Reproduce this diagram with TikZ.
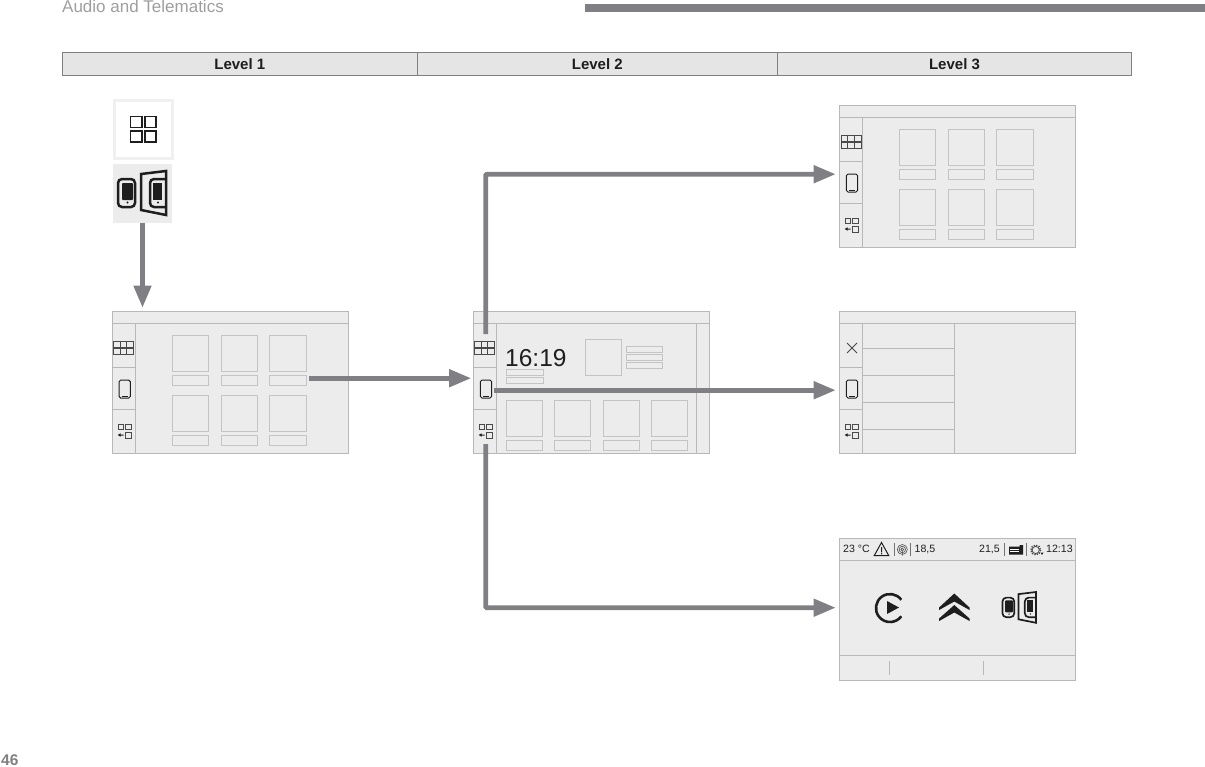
\documentclass[tikz,border=0pt]{standalone}
\usepackage{fontspec}
\setmainfont{Liberation Sans}
\usetikzlibrary{arrows.meta}
\definecolor{scrfill}{HTML}{ECECEC}
\definecolor{scrline}{HTML}{B8B8B8}
\definecolor{tileline}{HTML}{C4C4C4}
\definecolor{arrowgray}{HTML}{808084}
\definecolor{icondark}{HTML}{4A4A4A}
\definecolor{ink}{HTML}{1E1E1E}
\tikzset{
  screen/.style={draw=scrline,fill=scrfill,line width=1pt,minimum width=236.2pt,minimum height=142pt,anchor=north west,inner sep=0pt,outer sep=0pt},
  scrrule/.style={draw=scrline,line width=.95pt},
  tile/.style={draw=tileline,line width=1pt},
  flow/.style={draw=arrowgray,line width=4.6pt,-{Triangle[length=22pt,width=17pt]},shorten >=3.5pt},
  levelcell/.style={draw=gray,fill=black!10,line width=.9pt,minimum height=23pt,anchor=north west,inner sep=0pt,outer sep=0pt,font=\bfseries\fontsize{15}{16}\selectfont,text=ink},
  topbarlabel/.style={anchor=base west,inner sep=0pt,text=black!38,font=\fontsize{17}{19}\selectfont},
  statustext/.style={anchor=base west,inner sep=0pt,text=ink,font=\fontsize{10.6}{12}\selectfont},
  sidebar/.pic={
    \draw[scrrule] (23,12) -- (23,142) (0,12) -- (236,12) (0,56) -- (23,56) (0,98) -- (23,98);
  },
  gridico/.pic={
    \draw[icondark,line width=.8pt] (-10,-6.5) rectangle (10,-.6) (-10,.6) rectangle (10,6.5)
      (-3.3,-6.5) -- (-3.3,-.6) (3.3,-6.5) -- (3.3,-.6) (-3.3,.6) -- (-3.3,6.5) (3.3,.6) -- (3.3,6.5);
  },
  phoneico/.pic={
    \draw[ink,line width=1pt,rounded corners=1.6pt] (-5.6,-9) rectangle (5.6,9);
    \draw[ink,line width=1.2pt] (-3,7.4) -- (3,7.4);
  },
  backico/.pic={
    \draw[icondark,line width=.7pt] (-6.5,-7) rectangle (-1,-1.5) (.7,-7) rectangle (6.5,-1.5) (.7,1) rectangle (6.5,7);
    \fill[ink] (-6.8,4) -- (-4,2.3) -- (-4,3.5) -- (-1,3.5) -- (-1,4.5) -- (-4,4.5) -- (-4,5.7) -- cycle;
  },
  tilegrid/.pic={
    \foreach \tx in {60,109,157.5}{
      \foreach \ty in {24.5,84}{
        \draw[tile] (\tx,\ty) rectangle ++(36.5,36);
        \draw[tile] (\tx,\ty+40) rectangle ++(36.5,10);
      }
    }
  },
  mobico/.pic={
    \draw[ink,line width=#1pt,rounded corners=4pt] (1,8) rectangle (18,36);
    \fill[ink,rounded corners=.8pt] (5,12) rectangle (16,29);
    \fill[ink] (10.5,31.5) circle (1.1);
    \draw[ink,line width=#1pt,line join=miter] (24,3) -- (49,0) -- (49,44) -- (24,39) -- cycle;
    \draw[ink,line width=#1pt,rounded corners=4pt] (49,8) -- (33,8) -- (33,36) -- (49,36);
    \fill[ink] (36,12) rectangle (45,29);
    \fill[ink] (41,31.5) circle (1.1);
  }
}
\begin{document}
\begin{tikzpicture}[x=1pt,y=-1pt,line cap=butt]
\useasboundingbox (0,0) rectangle (1205,766);

% page furniture
\node[topbarlabel] (pagetitle) at (62,12) {Audio and Telematics};
\fill[arrowgray] (585,4) rectangle (1205,12);
\node[anchor=base west,inner sep=0pt,text=gray,font=\bfseries\fontsize{15.5}{17}\selectfont] (pagenum) at (1,765) {46};

% level table
\node[levelcell,minimum width=355pt] (lvlone) at (62.3,52.3) {Level 1};
\node[levelcell,minimum width=360pt] (lvltwo) at (417.3,52.3) {Level 2};
\node[levelcell,minimum width=354.4pt] (lvlthree) at (777.3,52.3) {Level 3};

% start icons
\node[draw=black!6,fill=white,line width=2.5pt,minimum size=58pt,inner sep=0pt,outer sep=0pt,anchor=north west] (menubox) at (114.3,100.3) {};
\draw[ink,line width=1.8pt] (130.5,116.5) rectangle (142,127.5) (145,116.5) rectangle (156,127.5)
   (130.5,131) rectangle (142,142) (145,131) rectangle (156,142);
\node[fill=scrfill,minimum size=59pt,inner sep=0pt,outer sep=0pt,anchor=north west] (mobbox) at (113,164) {};
\pic at (117,171) {mobico=2.5};

% screens
\node[screen] (scrA) at (112.2,311.2) {};
\node[screen] (scrB) at (473.2,311.2) {};
\node[screen] (scrC) at (839.2,105.2) {};
\node[screen] (scrD) at (839.2,311.2) {};
\node[screen] (scrE) at (839.2,538.2) {};

% screen A
\pic at (scrA.north west) {sidebar};
\pic at (123.5,347.5) {gridico};
\pic at (124.7,389) {phoneico};
\pic at (124.5,431) {backico};
\pic at (scrA.north west) {tilegrid};

% screen C
\pic at (scrC.north west) {sidebar};
\pic at (851,141.5) {gridico};
\pic at (852,183) {phoneico};
\pic at (851.5,225) {backico};
\pic at (scrC.north west) {tilegrid};

% screen B
\pic at (scrB.north west) {sidebar};
\pic at (484.5,347.5) {gridico};
\pic at (486,389) {phoneico};
\pic at (485.5,431) {backico};
\draw[scrrule] (696,323) -- (696,453);
\node[anchor=base west,inner sep=0pt,text=ink,font=\fontsize{24.5}{26}\selectfont] (clock) at (505,366) {16:19};
\draw[tile] (585.5,339) rectangle (621.5,375);
\draw[tile] (626,346) rectangle (662,352) (626,354) rectangle (662,360) (626,362) rectangle (662,368);
\draw[tile] (506,369.5) rectangle (543,375.5) (506,377.5) rectangle (543,383.5);
\foreach \tx in {506,554.5,603,651.5}{
  \draw[tile] (\tx,400.5) rectangle ++(36,36);
  \draw[tile] (\tx,440) rectangle ++(36,10.5);
}

% screen D
\pic at (scrD.north west) {sidebar};
\draw[icondark,line width=.9pt] (847,343) -- (857,353) (857,343) -- (847,353);
\pic at (852,389) {phoneico};
\pic at (851.5,431) {backico};
\draw[scrrule] (954.5,323) -- (954.5,453);
\foreach \ry in {348,375,402,429}{\draw[scrrule] (862,\ry) -- (954.5,\ry);}

% screen E
\draw[scrrule] (839,560) -- (1075,560) (839,655.5) -- (1075,655.5);
\draw[scrrule] (889.5,661) -- (889.5,674.5) (983,661) -- (983,674.5);
\node[statustext] (temp) at (843,552) {23 °C};
\node[statustext] (valone) at (914.5,552) {18,5};
\node[statustext] (valtwo) at (979,552) {21,5};
\node[statustext] (timetxt) at (1046,552) {12:13};
\draw[ink,line width=1pt,line join=miter] (881.5,542.5) -- (888.7,555.5) -- (874.3,555.5) -- cycle;
\fill[ink] (881,547) rectangle (882,552.3) (881,553) rectangle (882,554.3);
\draw[black!55,line width=.8pt] (894,543) -- (894,556) (910.7,543) -- (910.7,556) (1004.3,543) -- (1004.3,556) (1026.7,543) -- (1026.7,556);
\draw[ink!80,line width=.6pt] (902.3,549.5) circle (5) (902.3,549.5) circle (3.2) (902.3,549.5) circle (1.4) (902.3,551) -- (902.3,555.5);
\fill[ink] (1009,546.5) -- (1019.5,546.5) -- (1019.5,545) -- (1023,545) -- (1023,554.5) -- (1009,554.5) -- cycle;
\draw[white,line width=.5pt] (1010,549) -- (1018.5,549) (1010,551.5) -- (1018.5,551.5);
\draw[icondark,line width=1.6pt,dash pattern=on 1.2pt off 1.3pt] (1035.7,550) circle (4.8);
\draw[icondark,line width=.8pt] (1035.7,550) circle (3.6);
\fill[ink] (1040.5,552.5) -- (1043.5,552.5) -- (1042,555) -- cycle;
\draw[ink,line width=2.6pt] (901.3,599.8) arc[start angle=-36,end angle=-324,radius=14];
\fill[ink] (887,601) -- (899,607.5) -- (887,614) -- cycle;
\fill[ink] (954.3,593.5) -- (969.5,607.5) -- (969.5,610) -- (954.3,601.5) -- (939.1,610) -- (939.1,607.5) -- cycle;
\fill[ink] (954.3,605) -- (969.5,618.5) -- (969.5,621) -- (954.3,612.5) -- (939.1,621) -- (939.1,618.5) -- cycle;
\pic[scale=.7] at (1001.7,592) {mobico=1.7};

% connectors
\draw[flow] (mobbox.south) -- (mobbox.south |- scrA.north);
\draw[flow,shorten >=2pt] ([xshift=-39pt,yshift=4pt]scrA.east) -- ([yshift=4pt]scrB.west);
\draw[flow,rounded corners=1pt] ([xshift=12.5pt,yshift=-23pt]scrB.north west) |- ([yshift=2pt]scrC.west);
\draw[flow] ([xshift=21pt,yshift=-8pt]scrB.west) -- ([yshift=-8pt]scrD.west);
\draw[flow,rounded corners=1pt] ([xshift=12.5pt,yshift=9pt]scrB.south west) |- ([yshift=1.5pt]scrE.west);
\end{tikzpicture}
\end{document}
